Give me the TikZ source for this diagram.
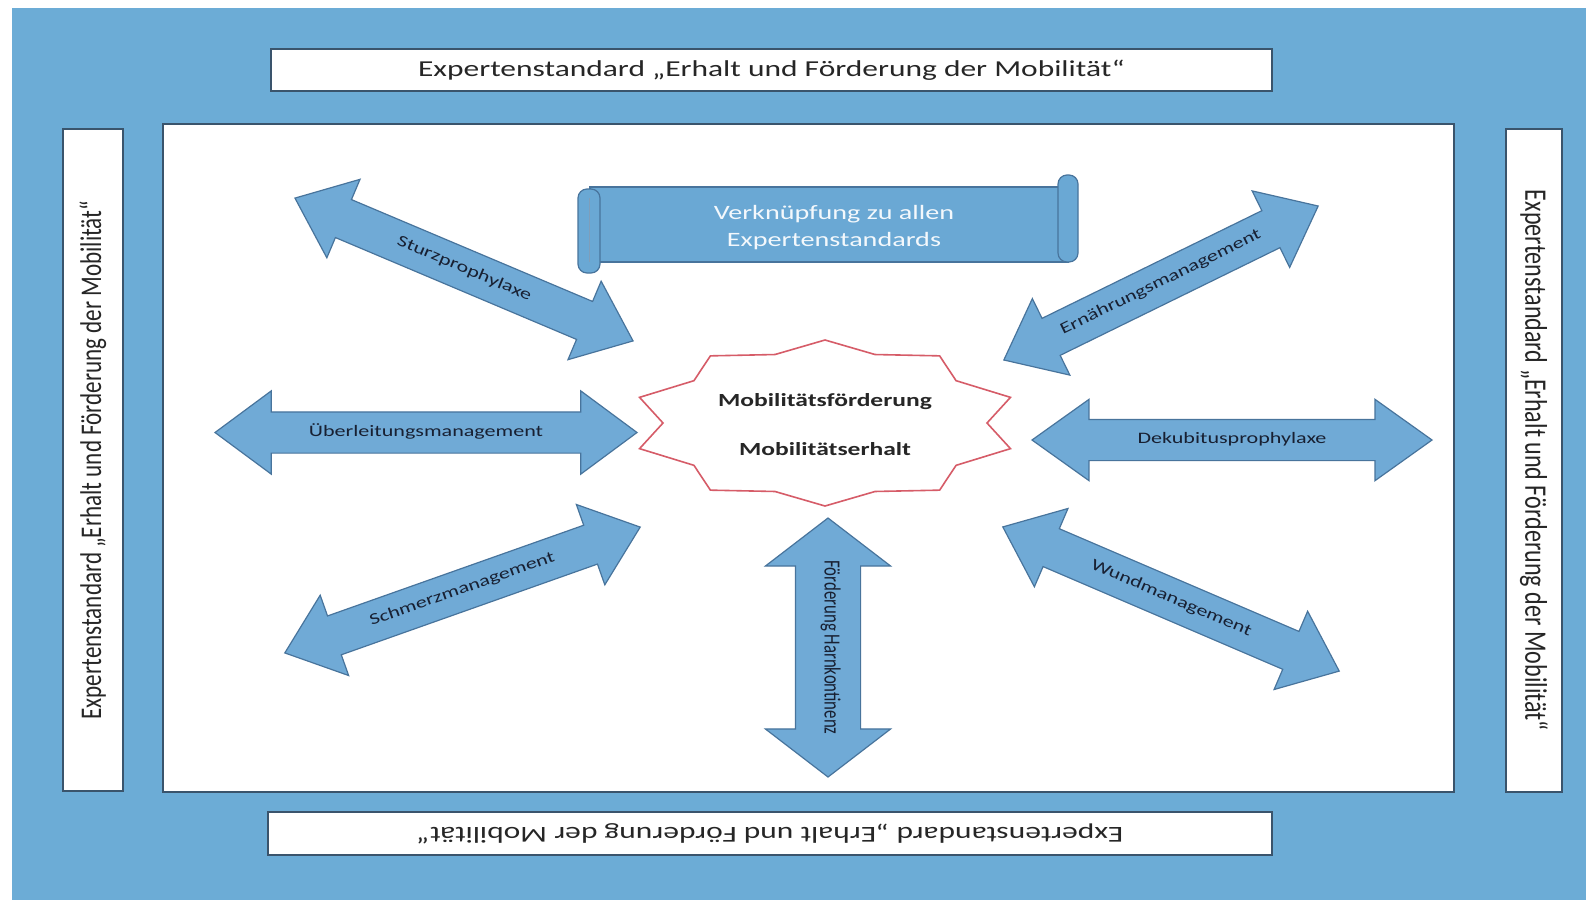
\documentclass[tikz,border=0pt]{standalone}
\usepackage{fontspec}
\usepackage{graphicx}
\setmainfont{Carlito}
\newfontfamily\widef[FakeStretch=1.38]{Carlito}
\usetikzlibrary{shapes.arrows}
\definecolor{bgblue}{RGB}{108,172,214}
\definecolor{arrfill}{RGB}{112,170,214}
\definecolor{arrline}{RGB}{72,116,156}
\definecolor{boxline}{RGB}{58,84,108}
\definecolor{starred}{RGB}{214,92,104}
\definecolor{lbltext}{RGB}{24,32,50}
\definecolor{scrollfill}{RGB}{106,168,212}
\tikzset{
  dblarrow/.style={double arrow, draw=arrline, fill=arrfill, line width=1.2pt,
    inner xsep=0pt, text height=11pt, text depth=4pt, inner ysep=12.5pt,
    double arrow head extend=22pt, double arrow tip angle=78, text=lbltext,
    font=\widef\fontsize{16}{19}\selectfont},
  whitebox/.style={draw=boxline, fill=white, line width=1.5pt, inner sep=0pt, text=black!85},
  scrollpart/.style={draw=arrline, fill=scrollfill, line width=1.2pt},
  startext/.style={font=\widef\bfseries\fontsize{18.5}{22}\selectfont, text=black!85}
}
\begin{document}
\begin{tikzpicture}[x=1pt,y=-1pt]
\useasboundingbox (0,0) rectangle (1586,900);
\fill[bgblue] (12,8) rectangle (1586,900);
\filldraw[draw=boxline, fill=white, line width=2pt] (163,124) rectangle (1454,792);

\node[whitebox, minimum width=1001pt, minimum height=42pt, font=\widef\fontsize{22.8}{26}\selectfont] (topbox) at (771.5,70) {Expertenstandard „Erhalt und Förderung der Mobilität“};
\node[whitebox, rotate=180, minimum width=1004pt, minimum height=43pt, font=\widef\fontsize{22.8}{26}\selectfont] (bottombox) at (770,833.5) {Expertenstandard „Erhalt und Förderung der Mobilität“};
\node[whitebox, rotate=90, minimum width=662pt, minimum height=60pt] (leftbox) at (93,460) {\scalebox{1}[1.3]{\fontsize{23.1}{26}\selectfont Expertenstandard „Erhalt und Förderung der Mobilität“}};
\node[whitebox, rotate=-90, minimum width=663pt, minimum height=56pt] (rightbox) at (1534,460.5) {\scalebox{1}[1.3]{\fontsize{24.1}{26}\selectfont Expertenstandard „Erhalt und Förderung der Mobilität“}};

\node[dblarrow, minimum height=367pt, rotate=-22.9] (sturz) at (464,269.5) {Sturzprophylaxe};
\node[dblarrow, minimum height=350pt, rotate=26.1] (ernaehrung) at (1161,283) {Ernährungsmanagement};
\node[dblarrow, minimum height=422pt, double arrow head extend=21pt, double arrow tip angle=73] (ueberleitung) at (426,432.5) {Überleitungsmanagement};
\node[dblarrow, minimum height=400pt, double arrow head extend=20pt, double arrow tip angle=71] (dekubitus) at (1232,440) {Dekubitusprophylaxe};
\node[dblarrow, minimum height=377pt, rotate=19.5] (schmerz) at (462.5,590) {Schmerzmanagement};
\node[dblarrow, minimum height=366pt, rotate=-23.2] (wund) at (1171,599) {Wundmanagement};
\node[dblarrow, minimum height=259pt, rotate=-90, inner ysep=24.5pt, double arrow head extend=30pt, double arrow tip angle=105, font=\fontsize{16.8}{19}\selectfont] (harn) at (828,647.5) {\scalebox{1}[1.38]{Förderung Harnkontinenz}};

\draw[starred, line width=1.6pt, fill=white] (825,340)
  \foreach \k in {0,...,9} { -- ({825+162*cos(108+36*\k)},{423-72*sin(108+36*\k)}) -- ({825+195*cos(126+36*\k)},{423-83*sin(126+36*\k)}) } -- cycle;
\node[startext] (foerderung) at (825,402) {Mobilitätsförderung};
\node[startext] (erhalt) at (825,449) {Mobilitätserhalt};

\filldraw[scrollpart] (590,187) rectangle (1068,262);
\filldraw[scrollpart, rounded corners=9pt] (1058,175) rectangle (1078,262);
\filldraw[scrollpart, rounded corners=9pt] (578,189) rectangle (600,273);
\draw[arrline!70, line width=0.8pt] (589,198) -- (589,262);
\node[font=\widef\fontsize{20.4}{27}\selectfont, text=white!92!scrollfill, align=center] (scrolltext) at (834,228) {Verknüpfung zu allen\\Expertenstandards};
\end{tikzpicture}
\end{document}
